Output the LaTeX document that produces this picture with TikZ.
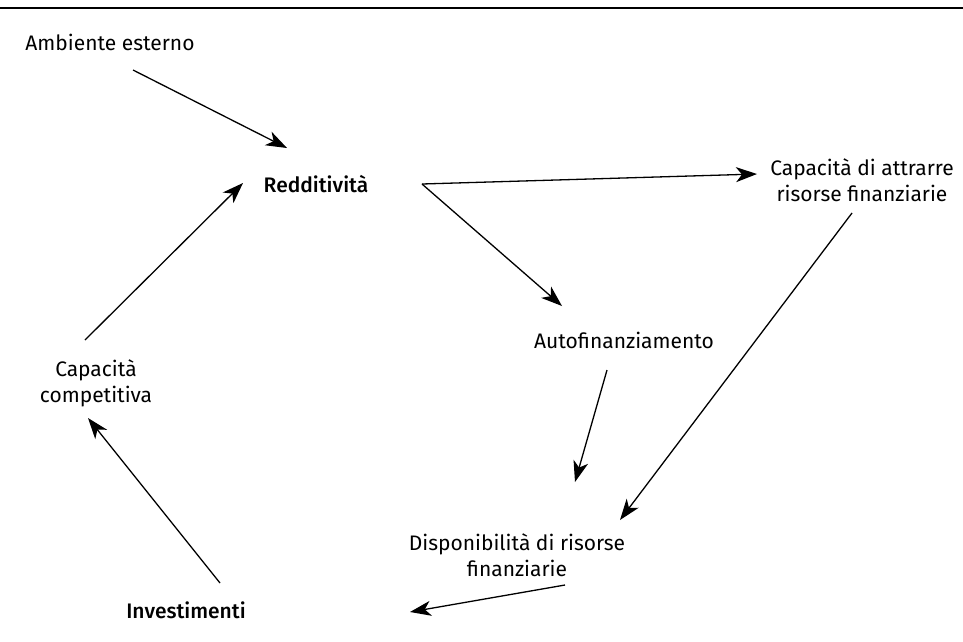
\documentclass[tikz,border=0pt]{standalone}
\usepackage{fontspec}
\setmainfont{Fira Sans}
\IfFontExistsTF{Fira Sans Medium}
  {\newfontfamily\medfont{Fira Sans Medium}}
  {\newcommand\medfont{\bfseries}}
\usetikzlibrary{
  arrows.meta
}

\tikzset{
  lbl/.style={inner sep=0pt, align=center, font=\fontsize{21}{26}\selectfont},
  key/.style={lbl, font=\fontsize{21}{26}\selectfont\medfont},
  arr/.style={->, >={Stealth[length=21pt,width=15pt,inset=6pt]}, line width=1.3pt}
}

\begin{document}
\begin{tikzpicture}[x=1pt, y=-1pt]
        \useasboundingbox (0,0) rectangle (963,641);
        \draw[line width=2pt] (0,8) -- (963,8);
        % labels
        \node[lbl] (amb)  at (110, 42) {Ambiente esterno};
        \node[key] (red)  at (316,184) {Redditività};
        \node[lbl] (attr) at (862,180) {Capacità di attrarre\\risorse finanziarie};
        \node[lbl] (auto) at (624,340) {Autofinanziamento};
        \node[lbl] (comp) at ( 96,383) {Capacità\\competitiva};
        \node[lbl] (disp) at (517,555) {Disponibilità di risorse\\finanziarie};
        \node[key] (inv)  at (186,610) {Investimenti};
        % links
        \draw[arr] ([shift={(23,28)}]amb.center)    -- ([shift={(-29,-36)}]red.center);
        \draw[arr] ([shift={(106,0)}]red.center)    -- ([shift={(-105,-6)}]attr.center);
        \draw[arr] ([shift={(106,0)}]red.center)    -- ([shift={(-62,-34)}]auto.center);
        \draw[arr] ([shift={(-10,33)}]attr.center)  -- ([shift={(103,-35)}]disp.center);
        \draw[arr] ([shift={(-17,30)}]auto.center)  -- ([shift={(58,-73)}]disp.center);
        \draw[arr] ([shift={(48,30)}]disp.center)   -- ([shift={(224,2)}]inv.center);
        \draw[arr] ([shift={(34,-27)}]inv.center)   -- ([shift={(-8,35)}]comp.center);
        \draw[arr] ([shift={(-11,-43)}]comp.center) -- ([shift={(-73,-1)}]red.center);
\end{tikzpicture}
\end{document}
